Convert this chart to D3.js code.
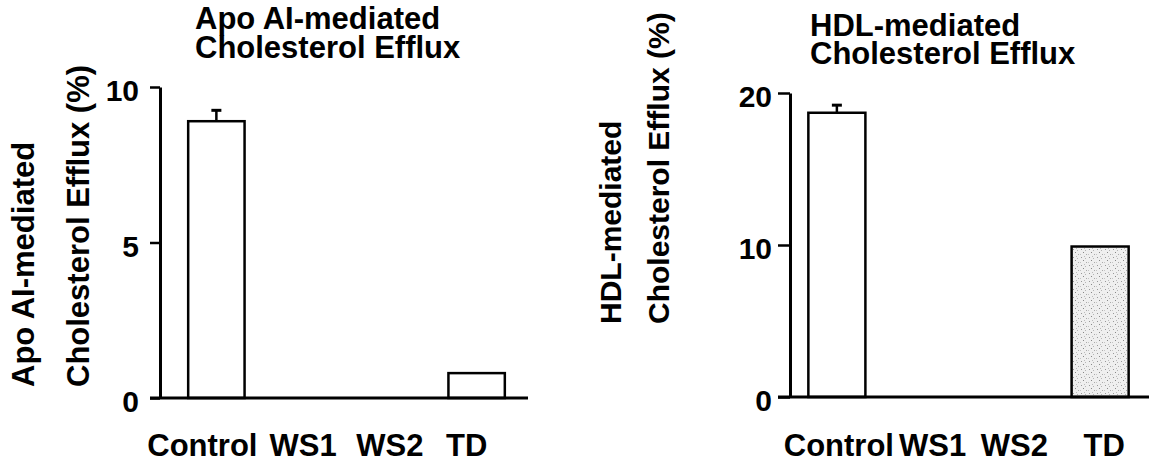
<!DOCTYPE html>
<html lang="en">
<head>
    <meta charset="UTF-8">
    <title>Cholesterol Efflux</title>
    <script src="https://d3js.org/d3.v7.min.js"></script>
    <style>
        body { margin: 0; background: #fff; }
        svg text { font-family: "Liberation Sans", Arial, Helvetica, sans-serif; font-weight: bold; fill: #000; }
    </style>
</head>
<body>
<svg id="chart" width="1149" height="464"></svg>
<script>
    // data
    const categories = ["Control", "WS1", "WS2", "TD"];
    const apoValues = [8.9, 0, 0, 0.8];
    const apoErrors = [0.35, 0, 0, 0];
    const apoTicks = [0, 5, 10];
    const hdlValues = [18.7, 0, 0, 9.9];
    const hdlErrors = [0.5, 0, 0, 0];
    const hdlTicks = [0, 10, 20];
    const apoTitle = ["Apo AI-mediated", "Cholesterol Efflux"];
    const hdlTitle = ["HDL-mediated", "Cholesterol Efflux"];
    const apoYLabel = ["Apo AI-mediated", "Cholesterol Efflux (%)"];
    const hdlYLabel = ["HDL-mediated", "Cholesterol Efflux (%)"];

    const svg = d3.select("#chart");

    // stippled fill for the TD bar in the HDL panel
    const defs = svg.append("defs");
    const pat = defs.append("pattern")
        .attr("id", "stipple")
        .attr("patternUnits", "userSpaceOnUse")
        .attr("width", 8).attr("height", 8);
    pat.append("rect").attr("width", 8).attr("height", 8).attr("fill", "#efefef");
    [[1, 1, "#999"], [5, 2, "#b5b5b5"], [3, 4, "#888"], [6, 6, "#aaa"], [0, 6, "#c4c4c4"], [4, 0, "#bbb"]].forEach(d => {
        pat.append("rect").attr("x", d[0]).attr("y", d[1]).attr("width", 1).attr("height", 1).attr("fill", d[2]);
    });

    function drawPanel(p) {
        const g = svg.append("g");

        const x = d3.scaleBand()
            .domain(categories)
            .range(p.xRange)
            .paddingInner(0.35)
            .paddingOuter(0.175);
        const y = d3.scaleLinear().domain(p.yDomain).range(p.yRange);

        // y axis
        const yAxis = g.append("g")
            .attr("transform", `translate(${p.axisX},0)`)
            .call(d3.axisLeft(y).tickValues(p.ticks).tickSize(p.tickLen).tickSizeOuter(0).tickPadding(p.tickPad));
        yAxis.select(".domain").attr("stroke", "#000").attr("stroke-width", 3);
        yAxis.selectAll(".tick line").attr("stroke", "#000").attr("stroke-width", 2.5);
        yAxis.selectAll(".tick text")
            .attr("dy", "0.45em")
            .style("font-size", "30px")
            .style("font-family", "'Liberation Sans', Arial, sans-serif")
            .style("font-weight", "bold");

        // bars
        const rows = categories.map((c, i) => ({ c, v: p.values[i], e: p.errors[i] }));
        g.selectAll("rect.bar")
            .data(rows.filter(d => d.v > 0))
            .join("rect")
            .attr("class", "bar")
            .attr("x", d => x(d.c))
            .attr("y", d => y(d.v))
            .attr("width", x.bandwidth())
            .attr("height", d => y(0) - y(d.v))
            .attr("fill", d => p.fills[d.c] || "#fff")
            .attr("stroke", "#000")
            .attr("stroke-width", 2.5);

        // error bars
        const eb = rows.filter(d => d.e > 0);
        g.selectAll("line.err")
            .data(eb)
            .join("line")
            .attr("x1", d => x(d.c) + x.bandwidth() / 2)
            .attr("x2", d => x(d.c) + x.bandwidth() / 2)
            .attr("y1", d => y(d.v))
            .attr("y2", d => y(d.v + d.e))
            .attr("stroke", "#000").attr("stroke-width", 2.5);
        g.selectAll("line.cap")
            .data(eb)
            .join("line")
            .attr("x1", d => x(d.c) + x.bandwidth() / 2 - 5)
            .attr("x2", d => x(d.c) + x.bandwidth() / 2 + 5)
            .attr("y1", d => y(d.v + d.e))
            .attr("y2", d => y(d.v + d.e))
            .attr("stroke", "#000").attr("stroke-width", 3);

        // x axis baseline
        g.append("line")
            .attr("x1", p.axisX - p.tickLen)
            .attr("x2", p.baseEnd)
            .attr("y1", y(0)).attr("y2", y(0))
            .attr("stroke", "#000").attr("stroke-width", 3);

        // category labels, centred under the bands with small nudges as in the print
        g.selectAll("text.cat")
            .data(categories)
            .join("text")
            .attr("class", "cat")
            .attr("x", (d, i) => x(d) + x.bandwidth() / 2 + p.labelDx[i])
            .attr("y", p.catY)
            .attr("text-anchor", "middle")
            .style("font-size", "31px")
            .text(d => d);

        // title
        p.title.forEach((t, i) => {
            g.append("text")
                .attr("x", p.titleX)
                .attr("y", p.titleY + i * p.titleGap)
                .style("font-size", "31px")
                .text(t);
        });

        // y label (two rotated lines)
        p.yLabel.forEach((t, i) => {
            g.append("text")
                .attr("transform", `translate(${p.yLabelX[i]},${p.yLabelY}) rotate(-90)`)
                .attr("text-anchor", "start")
                .style("font-size", p.yLabelSize + "px")
                .text(t);
        });
    }

    drawPanel({
        values: apoValues, errors: apoErrors, ticks: apoTicks,
        yDomain: [0, 10], yRange: [398, 87],
        xRange: [173, 520], axisX: 160, tickLen: 10, tickPad: 11, baseEnd: 528,
        fills: {},
        labelDx: [-14, 0, 0, -10], catY: 456,
        title: apoTitle, titleX: 195, titleY: 29, titleGap: 29,
        yLabel: apoYLabel, yLabelX: [34, 89], yLabelY: 387, yLabelSize: 31
    });

    drawPanel({
        values: hdlValues, errors: hdlErrors, ticks: hdlTicks,
        yDomain: [0, 20], yRange: [397, 93],
        xRange: [793, 1144], axisX: 790, tickLen: 12, tickPad: 6, baseEnd: 1149,
        fills: { TD: "url(#stipple)" },
        labelDx: [2, 8, 2, 4], catY: 456,
        title: hdlTitle, titleX: 810, titleY: 36, titleGap: 28,
        yLabel: hdlYLabel, yLabelX: [621, 669], yLabelY: 324, yLabelSize: 30
    });
</script>
</body>
</html>
